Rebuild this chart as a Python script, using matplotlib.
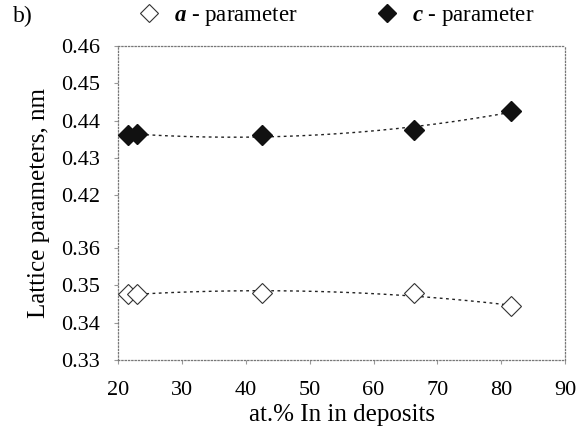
import numpy as np
import matplotlib
matplotlib.use("Agg")
import matplotlib.pyplot as plt
from matplotlib.lines import Line2D

plt.rcParams['font.family'] = ['Liberation Serif', 'DejaVu Serif']
plt.rcParams['mathtext.fontset'] = 'custom'
plt.rcParams['mathtext.it'] = 'Liberation Serif:italic:bold'
plt.rcParams['mathtext.rm'] = 'Liberation Serif'

# data
x_in = [21.5, 23.0, 42.5, 66.3, 81.5]
a_param = [0.3476, 0.3476, 0.3479, 0.3478, 0.3443]
c_param = [0.4363, 0.4364, 0.4363, 0.4376, 0.4426]
x_ticks = [20, 30, 40, 50, 60, 70, 80, 90]
y_ticks = [0.33, 0.34, 0.35, 0.36, 0.42, 0.43, 0.44, 0.45, 0.46]
series_labels = [r"$a$ - parameter", r"$c$ - parameter"]

# broken-axis mapping: 0.36..0.42 compressed
LO, HI, GAP = 0.36, 0.42, 0.014

def fwd(v):
    v = np.asarray(v, dtype=float)
    return np.where(v >= HI, v,
                    np.where(v <= LO, v + (HI - LO) - GAP,
                             HI - GAP + (v - LO) * GAP / (HI - LO)))

def inv(u):
    u = np.asarray(u, dtype=float)
    return np.where(u >= HI, u,
                    np.where(u <= HI - GAP, u - (HI - LO) + GAP,
                             LO + (u - (HI - GAP)) * (HI - LO) / GAP))

fig = plt.figure(figsize=(5.87, 4.29), dpi=100)
ax = fig.add_axes([0.201, 0.161, 0.762, 0.732])
ax.set_yscale('function', functions=(fwd, inv))

xs = np.linspace(min(x_in), max(x_in), 200)
for vals in (a_param, c_param):
    p = np.polyfit(x_in, vals, 2)
    ax.plot(xs, np.polyval(p, xs), color='#222222', lw=1.0,
            linestyle=(0, (2.0, 2.5)), zorder=2)

ax.plot(x_in, a_param, linestyle='none', marker='D', markersize=10,
        markerfacecolor='white', markeredgecolor='#333333', markeredgewidth=0.8,
        zorder=3)
ax.plot(x_in, c_param, linestyle='none', marker='D', markersize=10.5,
        markerfacecolor='#111111', markeredgecolor='#111111', zorder=3)

ax.set_xlim(20, 90)
ax.set_ylim(0.33, 0.46)
ax.set_xticks(x_ticks)
ax.set_yticks(y_ticks)
ax.set_yticklabels([f"{t:.2f}" for t in y_ticks])
ax.minorticks_off()
ax.tick_params(labelsize=16, length=3, color='#999999')
ax.tick_params(axis='y', pad=10)
ax.tick_params(axis='x', pad=12)

for s in ax.spines.values():
    s.set_linestyle(':')
    s.set_color('#777777')
    s.set_linewidth(0.9)

ax.set_xlabel("at.% In in deposits", fontsize=18, labelpad=3)
ax.set_ylabel("Lattice parameters, nm", fontsize=18, labelpad=8)

handles = [
    Line2D([], [], linestyle='none', marker='D', markersize=9,
           markerfacecolor='white', markeredgecolor='#333333', markeredgewidth=0.8),
    Line2D([], [], linestyle='none', marker='D', markersize=9,
           markerfacecolor='#111111', markeredgecolor='#111111'),
]
fig.legend(handles, series_labels, loc='center', bbox_to_anchor=(0.57, 0.962),
           ncol=2, frameon=False, fontsize=16.5, handletextpad=0.5,
           columnspacing=3.3, handlelength=1.2, borderpad=0)

fig.text(0.022, 0.962, "b)", fontsize=17, va='center', ha='left')

fig.savefig("out.png", dpi=100)
